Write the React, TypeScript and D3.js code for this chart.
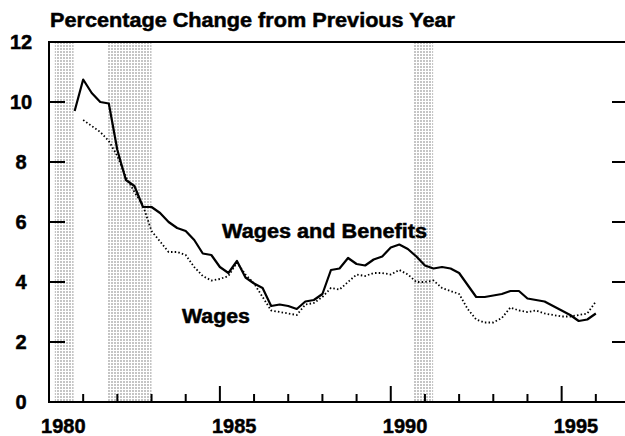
import React, { useEffect, useRef } from 'react';
import * as d3 from 'd3';

// quarterly dates (decimal years) and values
const benefitYears = [
  1980.75, 1981, 1981.25, 1981.5, 1981.75, 1982, 1982.25, 1982.5, 1982.75, 1983, 1983.25, 1983.5, 1983.75,
  1984, 1984.25, 1984.5, 1984.75, 1985, 1985.25, 1985.5, 1985.75, 1986, 1986.25, 1986.5, 1986.75,
  1987, 1987.25, 1987.5, 1987.75, 1988, 1988.25, 1988.5, 1988.75, 1989, 1989.25, 1989.5, 1989.75,
  1990, 1990.25, 1990.5, 1990.75, 1991, 1991.25, 1991.5, 1991.75, 1992, 1992.25, 1992.5, 1992.75,
  1993, 1993.25, 1993.5, 1993.75, 1994, 1994.25, 1994.5, 1994.75, 1995, 1995.25, 1995.5, 1995.75, 1996,
];
const wagesAndBenefits = [
  9.7, 10.75, 10.3, 10.0, 9.95, 8.4, 7.4, 7.2, 6.5, 6.5, 6.3, 6.0, 5.8,
  5.7, 5.4, 4.95, 4.9, 4.5, 4.3, 4.7, 4.15, 3.95, 3.8, 3.2, 3.25,
  3.2, 3.1, 3.35, 3.4, 3.6, 4.4, 4.45, 4.8, 4.6, 4.55, 4.75, 4.85,
  5.15, 5.25, 5.1, 4.85, 4.55, 4.45, 4.5, 4.45, 4.3, 3.9, 3.5, 3.5,
  3.55, 3.6, 3.7, 3.7, 3.45, 3.4, 3.35, 3.2, 3.05, 2.9, 2.7, 2.75, 2.95,
];

const wageYears = benefitYears.slice(1);
const wages = [
  9.4, 9.2, 9.0, 8.7, 8.2, 7.5, 7.0, 6.55, 5.7, 5.35, 5.0, 5.0,
  4.9, 4.5, 4.2, 4.05, 4.1, 4.2, 4.65, 4.25, 3.95, 3.5, 3.05, 3.0,
  2.95, 2.9, 3.25, 3.3, 3.5, 3.8, 3.75, 4.0, 4.25, 4.2, 4.3, 4.3,
  4.25, 4.4, 4.25, 4.0, 4.0, 4.05, 3.8, 3.7, 3.6, 3.1, 2.75, 2.65,
  2.65, 2.8, 3.15, 3.05, 3.0, 3.05, 2.95, 2.9, 2.85, 2.85, 2.9, 2.95, 3.35,
];

// shaded periods
const shadeStart = [1980.17, 1981.7, 1990.67];
const shadeEnd = [1980.72, 1983.0, 1991.24];

const yTicks = [0, 2, 4, 6, 8, 10, 12];
const rightTicks = [2, 4, 6, 8, 10];
const yearTicks = d3.range(1980, 1997);
const yearLabels = [1980, 1985, 1990, 1995];

const title = 'Percentage Change from Previous Year';
const font = '"Liberation Sans", Arial, sans-serif';

const App = () => {
  const svgRef = useRef<SVGSVGElement>(null);

  useEffect(() => {
    const svg = d3.select(svgRef.current);
    svg.selectAll('*').remove();

    const left = 49;
    const right = 630;
    const top = 42;
    const bottom = 402;

    const x = d3.scaleLinear().domain([1980, 1997]).range([left, right]);
    const y = d3.scaleLinear().domain([0, 12]).range([bottom, top]);

    // halftone pattern for the shaded periods
    const pat = svg
      .append('defs')
      .append('pattern')
      .attr('id', 'halftone')
      .attr('width', 3)
      .attr('height', 3)
      .attr('patternUnits', 'userSpaceOnUse');
    pat.append('rect').attr('width', 2).attr('height', 2).attr('fill', '#8a8a8a');

    svg
      .append('g')
      .selectAll('rect')
      .data(shadeStart)
      .join('rect')
      .attr('x', (d) => x(d))
      .attr('y', top)
      .attr('width', (d, i) => x(shadeEnd[i]) - x(d))
      .attr('height', bottom - top)
      .attr('fill', 'url(#halftone)')
      .attr('opacity', 0.5);

    // heavy bold text helper
    const label = (sel) =>
      sel
        .attr('font-family', font)
        .attr('font-weight', 'bold')
        .attr('font-size', 20)
        .attr('stroke', '#000')
        .attr('stroke-width', 0.5);

    svg
      .append('text')
      .attr('x', 50)
      .attr('y', 27)
      .attr('textLength', 405)
      .attr('lengthAdjust', 'spacingAndGlyphs')
      .call(label)
      .text(title);

    // frame
    svg
      .append('path')
      .attr('d', `M${right},${top}H${left}V${bottom}H${right}`)
      .attr('fill', 'none')
      .attr('stroke', '#000')
      .attr('stroke-width', 2);

    // y ticks
    svg
      .append('g')
      .selectAll('line')
      .data(yTicks.filter((d) => d > 0 && d < 12))
      .join('line')
      .attr('x1', left)
      .attr('x2', left + 16)
      .attr('y1', (d) => y(d))
      .attr('y2', (d) => y(d))
      .attr('stroke', '#000')
      .attr('stroke-width', 2);

    svg
      .append('g')
      .selectAll('line')
      .data(rightTicks)
      .join('line')
      .attr('x1', right - 18)
      .attr('x2', right)
      .attr('y1', (d) => y(d))
      .attr('y2', (d) => y(d))
      .attr('stroke', '#000')
      .attr('stroke-width', 2);

    svg
      .append('g')
      .selectAll('text')
      .data(yTicks)
      .join('text')
      .attr('x', 21)
      .attr('y', (d) => y(d) + 7)
      .attr('text-anchor', 'middle')
      .call(label)
      .text((d) => d);

    // x ticks, longer every five years
    svg
      .append('g')
      .selectAll('line')
      .data(yearTicks.slice(1))
      .join('line')
      .attr('x1', (d) => x(d))
      .attr('x2', (d) => x(d))
      .attr('y1', bottom)
      .attr('y2', (d) => (d % 5 === 0 ? bottom - 16 : bottom - 8))
      .attr('stroke', '#000')
      .attr('stroke-width', 2);

    svg
      .append('g')
      .selectAll('text')
      .data(yearLabels)
      .join('text')
      .attr('x', (d) => x(d + 0.42))
      .attr('y', 433)
      .attr('text-anchor', 'middle')
      .call(label)
      .text((d) => d);

    const solid = d3
      .line<number>()
      .x((d, i) => x(benefitYears[i]))
      .y((d) => y(d));

    const dotted = d3
      .line<number>()
      .x((d, i) => x(wageYears[i]))
      .y((d) => y(d));

    svg
      .append('path')
      .datum(wages)
      .attr('fill', 'none')
      .attr('stroke', '#000')
      .attr('stroke-width', 1.8)
      .attr('stroke-dasharray', '1.5 2.2')
      .attr('d', dotted);

    svg
      .append('path')
      .datum(wagesAndBenefits)
      .attr('fill', 'none')
      .attr('stroke', '#000')
      .attr('stroke-width', 2.2)
      .attr('stroke-linejoin', 'round')
      .attr('d', solid);

    svg
      .append('text')
      .attr('x', 222)
      .attr('y', 238)
      .attr('textLength', 205)
      .attr('lengthAdjust', 'spacingAndGlyphs')
      .call(label)
      .text('Wages and Benefits');

    svg
      .append('text')
      .attr('x', 182)
      .attr('y', 323)
      .attr('textLength', 68)
      .attr('lengthAdjust', 'spacingAndGlyphs')
      .call(label)
      .text('Wages');
  }, []);

  return (
    <svg
      ref={svgRef}
      width={625}
      height={436}
      style={{ position: 'absolute', left: 0, top: 0, background: '#fff' }}
    />
  );
};

export default App;
